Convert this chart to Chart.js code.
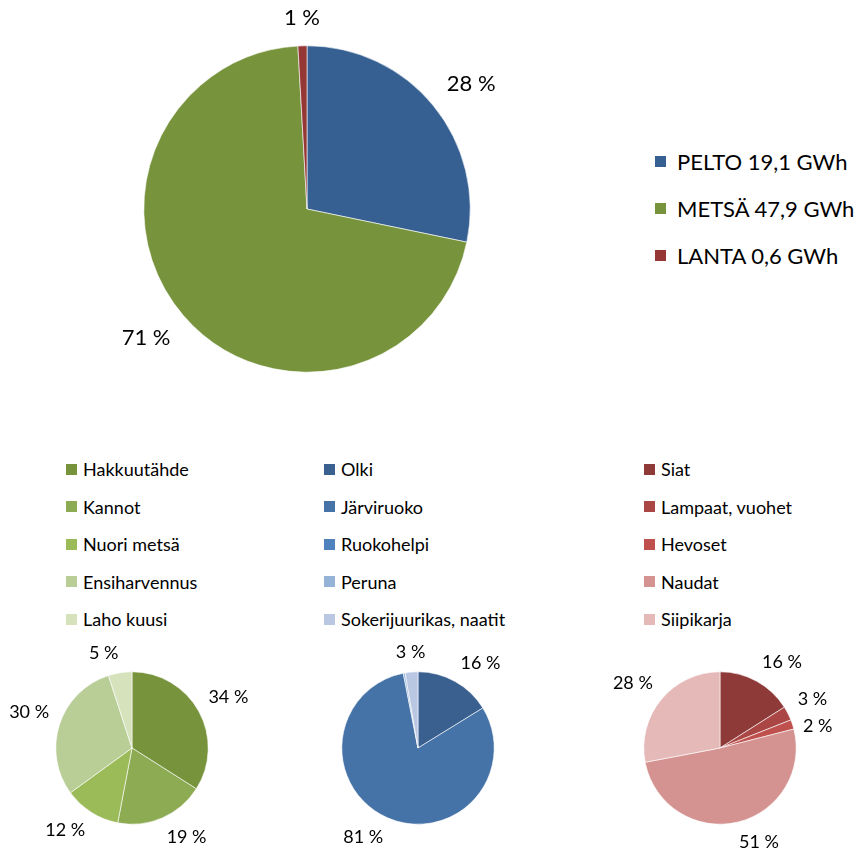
<!DOCTYPE html>
<html>
<head>
<meta charset="utf-8">
<script src="https://cdn.jsdelivr.net/npm/chart.js@4.4.1/dist/chart.umd.min.js"></script>
<style>
  body { margin: 0; background: #fff; width: 857px; height: 850px; position: relative; overflow: hidden; font-family: Lato, sans-serif; color: #000; }
  canvas { position: absolute; }
  .item { position: absolute; display: flex; align-items: center; white-space: nowrap; }
  .sw { display: inline-block; flex: none; }
</style>
</head>
<body>
<canvas id="mainPie" width="620" height="430" style="left:0;top:0"></canvas>
<canvas id="metsaPie" width="286" height="210" style="left:0;top:640px"></canvas>
<canvas id="peltoPie" width="286" height="210" style="left:286px;top:640px"></canvas>
<canvas id="lantaPie" width="285" height="210" style="left:572px;top:640px"></canvas>
<div id="legends"></div>

<script>
// paa-jako: energialahteet
const mainLabels = ['PELTO', 'METSÄ', 'LANTA'];
const mainValues = [19.1, 47.9, 0.6];   // GWh
const mainColors = ['#376092', '#77933c', '#953735'];

// metsa
const metsaLabels = ['Hakkuutähde', 'Kannot', 'Nuori metsä', 'Ensiharvennus', 'Laho kuusi'];
const metsaValues = [34, 19, 12, 30, 5];
const metsaColors = ['#77933c', '#8cab53', '#9bbb59', '#b9cd96', '#d5e2bc'];

// pelto
const peltoLabels = ['Olki', 'Järviruoko', 'Ruokohelpi', 'Peruna', 'Sokerijuurikas, naatit'];
const peltoValues = [16.2, 80.7, 0, 0.4, 2.7];
const peltoColors = ['#3a6090', '#4572a7', '#4f81bd', '#95b3d7', '#b9c7e3'];

// lanta
const lantaLabels = ['Siat', 'Lampaat, vuohet', 'Hevoset', 'Naudat', 'Siipikarja'];
const lantaValues = [16, 3, 2, 51, 28];
const lantaColors = ['#8e3a38', '#aa4643', '#c0504d', '#d49391', '#e5b9b8'];

// prosentit piirakan ulkopuolelle, kulma samaan suuntaan kuin siivun keskikohta
const pctLabels = {
  id: 'pctLabels',
  afterDatasetsDraw(chart, args, opts) {
    const ctx = chart.ctx;
    const meta = chart.getDatasetMeta(0);
    const vals = chart.data.datasets[0].data;
    const total = vals.reduce((a, b) => a + b, 0);
    ctx.save();
    ctx.font = opts.size + 'px Lato';
    ctx.fillStyle = '#000';
    ctx.textBaseline = 'top';
    const placed = [];
    meta.data.forEach((arc, i) => {
      const pct = Math.round(vals[i] / total * 100);
      if (!pct) return;
      const mid = (arc.startAngle + arc.endAngle) / 2;
      const d = arc.outerRadius + opts.gap;
      const sx = Math.cos(mid), sy = Math.sin(mid);
      const px = arc.x + sx * d, py = arc.y + sy * d;
      const text = pct + ' %';
      const w = ctx.measureText(text).width, h = opts.size;
      let x = Math.abs(sx) < 0.1 ? px - w / 2 : (sx > 0 ? px : px - w);
      let y = Math.abs(sy) < 0.2 ? py - h / 2 : (sy > 0 ? py : py - h);
      const pad = 9;
      placed.forEach(p => {
        if (x < p.x + p.w && x + w > p.x && y < p.y + p.h + pad && y + h + pad > p.y) y = p.y + p.h + pad;
      });
      placed.push({ x, y, w, h });
      ctx.fillText(text, x, y);
    });
    ctx.restore();
  }
};

function makePie(id, cx, cy, r, labels, values, colors, fontSize, gap) {
  const cv = document.getElementById(id);
  const W = cv.width, H = cv.height;
  new Chart(cv, {
    type: 'pie',
    data: {
      labels: labels,
      datasets: [{ data: values, backgroundColor: colors, borderColor: '#fff', borderWidth: 0.6, hoverOffset: 0 }]
    },
    options: {
      responsive: false,
      animation: false,
      layout: { padding: { left: cx - r, top: cy - r, right: W - cx - r, bottom: H - cy - r } },
      plugins: {
        legend: { display: false },
        tooltip: { enabled: false },
        pctLabels: { size: fontSize, gap: gap }
      }
    },
    plugins: [pctLabels]
  });
}

makePie('mainPie', 307, 209, 163.5, mainLabels, mainValues, mainColors, 22, 17);
makePie('metsaPie', 132, 108, 76.5, metsaLabels, metsaValues, metsaColors, 18, 11);
makePie('peltoPie', 132, 108, 76.5, peltoLabels, peltoValues, peltoColors, 18, 11);
makePie('lantaPie', 148, 108, 76.5, lantaLabels, lantaValues, lantaColors, 18, 11);

// selitteet
const legendBox = document.getElementById('legends');
function addItem(x, yc, text, color, sw, gap, size) {
  const el = document.createElement('div');
  el.className = 'item';
  el.style.left = x + 'px';
  el.style.top = (yc - size / 2 - 2) + 'px';
  el.style.height = (size + 4) + 'px';
  el.style.fontSize = size + 'px';
  el.innerHTML = '<span class="sw" style="width:' + sw + 'px;height:' + sw + 'px;background:' + color +
    ';margin-right:' + gap + 'px"></span><span></span>';
  el.lastChild.textContent = text;
  legendBox.appendChild(el);
}
mainLabels.forEach((l, i) => {
  addItem(655, 161 + i * 47, l + ' ' + mainValues[i].toFixed(1).replace('.', ',') + ' GWh', mainColors[i], 11, 11, 22);
});
const cols = [
  { x: 66, labels: metsaLabels, colors: metsaColors },
  { x: 324, labels: peltoLabels, colors: peltoColors },
  { x: 644, labels: lantaLabels, colors: lantaColors }
];
cols.forEach(c => {
  c.labels.forEach((l, i) => addItem(c.x, 469 + i * 37.6, l, c.colors[i], 11, 6, 18));
});
</script>
</body>
</html>
